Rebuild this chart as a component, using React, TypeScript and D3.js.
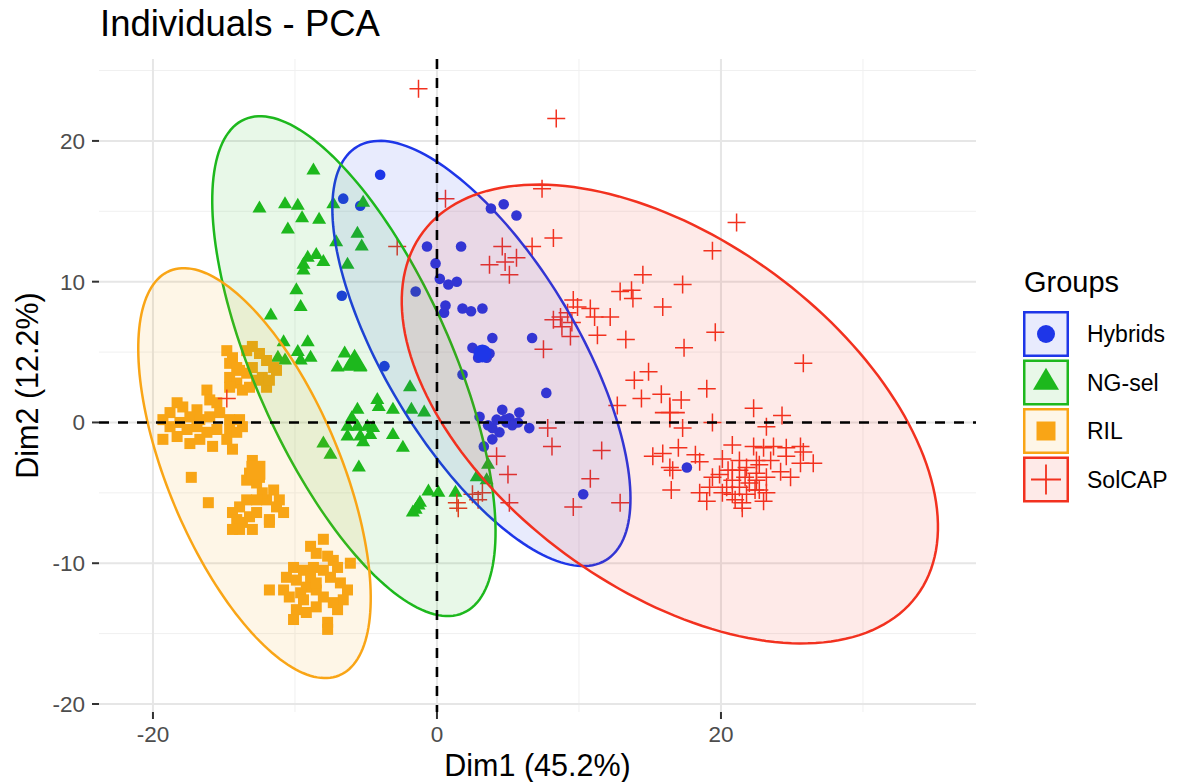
import React from "react";
import * as d3 from "d3";

const W = 1182;
const H = 782;

// ---- data (Dim1, Dim2) ----
const hybrids: [number, number][] = [
  [-4.0, 17.6], [-6.6, 15.9], [-5.4, 15.4], [3.8, 15.2], [4.7, 15.5], [5.6, 14.7],
  [-0.7, 12.5], [1.7, 12.5], [-0.1, 11.3], [0.2, 10.2], [0.8, 9.8], [1.4, 10.0],
  [-6.7, 9.0], [-1.5, 9.3], [0.6, 8.3], [0.5, 7.8], [1.8, 8.1], [2.4, 7.9], [3.2, 8.1],
  [3.9, 6.0], [6.7, 6.0], [2.5, 5.3], [3.0, 4.9], [3.5, 4.6], [2.9, 4.6], [3.7, 4.9],
  [3.2, 5.1], [1.8, 3.4], [7.7, 2.1], [-3.7, 4.0], [3.0, 0.4], [4.2, 0.2], [4.6, 0.9],
  [5.1, 0.3], [5.8, 0.7], [5.7, 0.0], [6.5, -0.4], [3.9, -0.4], [4.4, -0.7], [3.9, -1.2],
  [3.3, -1.7], [4.9, 0.0], [4.8, 0.2], [5.3, -0.2], [3.6, -0.2], [10.3, -5.1], [17.6, -3.2],
];

const ngSel: [number, number][] = [
  [-8.7, 17.9], [-12.5, 15.2], [-10.7, 15.5], [-9.8, 15.4], [-7.3, 15.5], [-9.5, 14.5],
  [-8.3, 14.4], [-10.5, 13.7], [-5.6, 13.4], [-5.3, 12.5], [-7.1, 12.8], [-9.1, 11.7],
  [-8.5, 11.9], [-8.0, 11.4], [-9.4, 11.2], [-9.4, 10.8], [-6.3, 11.2], [-9.9, 9.4],
  [-9.6, 8.2], [-11.7, 7.6], [-10.8, 5.7], [-9.1, 5.7], [-9.8, 5.0], [-8.9, 4.6],
  [-11.2, 4.6], [-10.7, 4.4], [-9.6, 4.4], [-6.5, 4.9], [-7.0, 3.9], [-5.9, 4.2],
  [-5.4, 3.9], [-6.0, 4.3], [-1.9, 2.5], [-4.2, 1.6], [-4.1, 1.1], [-5.6, 0.9],
  [-6.0, 0.3], [-3.1, 0.9], [-1.8, 0.9], [-0.9, 0.7], [-6.3, -0.3], [-5.6, -0.3],
  [-4.9, -0.3], [-4.5, -0.4], [-6.3, -1.0], [-5.4, -1.0], [-4.7, -0.9], [-5.2, -1.4],
  [-3.1, -0.9], [-8.0, -1.5], [-7.5, -2.3], [-2.4, -1.8], [-5.5, -3.2], [3.6, -3.0],
  [2.8, -3.9], [3.5, -4.1], [-0.6, -4.9], [0.1, -5.0], [1.3, -5.0], [-1.3, -5.9],
  [-1.5, -6.2], [-1.2, -5.7], [-1.7, -6.4], [-5.8, 4.1], [-5.2, 15.6],
];

const ril: [number, number][] = [
  [-14.8, 5.1], [-14.4, 4.6], [-14.6, 4.2], [-14.1, 3.9], [-13.4, 5.1], [-13.0, 5.4],
  [-12.5, 4.9], [-12.0, 4.4], [-11.5, 3.9], [-11.3, 3.7], [-14.6, 3.2], [-14.1, 2.8],
  [-13.7, 2.3], [-13.2, 2.5], [-12.7, 3.0], [-12.3, 3.2], [-12.0, 2.5], [-13.4, 3.5],
  [-13.9, 3.7], [-13.0, 3.9], [-11.8, 3.0], [-14.6, 2.5],
  [-16.2, 2.3], [-18.3, 1.4], [-18.8, 0.7], [-17.9, 1.1], [-16.9, 0.9], [-16.0, 1.6],
  [-15.5, 1.4], [-17.4, 0.4], [-16.7, 0.2], [-16.0, 0.4], [-15.3, 0.7], [-14.6, 0.2],
  [-13.9, 0.2], [-13.7, -0.3], [-14.6, -0.5], [-15.5, -0.5], [-16.2, -0.7], [-16.9, -0.3],
  [-17.6, -0.5], [-18.1, 0.0], [-18.8, -0.3], [-19.3, 0.2], [-19.3, -1.2], [-18.3, -1.0],
  [-17.4, -1.5], [-16.7, -1.2], [-15.8, -1.7], [-14.8, -1.2], [-14.1, -0.7], [-14.4, -1.9],
  [-17.3, -3.9], [-16.1, -5.7],
  [-13.0, -2.7], [-12.7, -3.2], [-13.2, -3.6], [-12.5, -3.9], [-13.4, -4.1], [-12.7, -4.3],
  [-11.5, -4.8], [-12.0, -5.5], [-11.1, -5.5], [-11.3, -6.0], [-10.8, -6.4], [-11.8, -6.9],
  [-12.3, -5.0], [-12.7, -5.5], [-13.4, -5.5], [-13.9, -6.0], [-14.4, -6.4], [-14.1, -6.9],
  [-13.7, -7.1], [-13.2, -6.7], [-12.7, -6.4], [-13.0, -7.6], [-13.9, -7.6], [-11.8, -7.1],
  [-14.4, -7.6],
  [-8.0, -8.3], [-8.9, -8.8], [-8.5, -9.3], [-7.7, -9.5], [-7.3, -9.8], [-7.0, -10.3],
  [-6.1, -10.0], [-10.1, -10.3], [-9.4, -10.5], [-8.7, -10.3], [-8.0, -10.5], [-7.5, -11.0],
  [-6.8, -11.4], [-6.3, -11.9], [-6.6, -12.6], [-7.3, -12.8], [-7.0, -13.3], [-8.0, -12.4],
  [-8.5, -11.9], [-9.2, -11.7], [-9.6, -12.1], [-10.4, -12.4], [-10.8, -11.9], [-11.8, -11.9],
  [-10.6, -11.0], [-9.9, -11.2], [-8.9, -11.0], [-9.4, -12.6], [-8.5, -13.1], [-9.9, -13.3],
  [-10.1, -14.0], [-9.2, -13.5], [-7.7, -14.2], [-7.7, -14.7], [-8.5, -11.4],
];

const solcap: [number, number][] = [
  [-1.3, 23.7], [8.4, 21.6], [7.4, 16.6], [0.6, 15.9], [-2.8, 12.5], [8.2, 13.1],
  [4.6, 12.5], [6.7, 12.5], [3.7, 11.2], [4.8, 11.4], [5.6, 11.7], [5.1, 10.5],
  [14.5, 10.5], [12.9, 9.3], [13.7, 9.4], [13.8, 8.8], [17.3, 9.8], [15.9, 8.2],
  [9.6, 8.7], [9.9, 8.2], [9.2, 7.8], [8.7, 7.5], [8.2, 7.3], [9.5, 7.1], [8.8, 6.8],
  [9.4, 6.1], [10.8, 8.1], [11.1, 7.5], [12.2, 7.5], [11.3, 6.2], [7.5, 5.2], [13.3, 5.9],
  [17.4, 5.3], [14.9, 3.6], [13.9, 3.0], [14.4, 1.7], [15.8, 2.0], [17.2, 1.6], [16.4, 0.7],
  [12.7, 1.2], [7.8, -0.4], [8.1, -1.7], [11.6, -2.0], [15.2, -2.4], [17.0, -1.8],
  [17.3, -0.4], [4.2, -2.4], [5.0, -3.7], [10.8, -4.0], [9.6, -6.0], [12.9, -5.7],
  [16.6, -3.4], [16.5, -4.8], [5.1, -5.7], [1.4, -5.7], [1.5, -6.1], [2.5, -5.1],
  [2.9, -5.5], [3.2, -5.0], [21.1, 14.2], [19.4, 12.2], [19.6, 6.4], [25.8, 4.2],
  [19.0, 2.4], [22.3, 1.0], [24.3, 0.5], [19.4, 0.0], [23.2, -0.3], [18.2, -2.3],
  [18.5, -2.8], [20.1, -2.6], [20.8, -1.6], [22.3, -1.7], [23.0, -1.8], [23.7, -1.7],
  [24.6, -1.8], [25.6, -1.7], [26.5, -2.9], [24.6, -2.4], [24.2, -3.5], [24.9, -3.9],
  [19.4, -3.9], [21.3, -2.7], [21.3, -3.4], [20.8, -4.1], [20.4, -4.6], [21.3, -4.6],
  [22.0, -4.3], [22.5, -3.6], [22.7, -4.8], [23.2, -5.0], [21.8, -5.1], [20.8, -5.1],
  [20.1, -5.0], [23.0, -5.6], [21.5, -5.7], [19.2, -4.6], [18.5, -5.0], [19.0, -5.6],
  [22.5, -2.7], [23.5, -2.7], [21.8, -3.2], [23.2, -3.9], [22.5, -4.1], [20.8, -3.4],
  [25.6, -2.9], [25.8, -2.1], [-14.8, 1.7], [15.9, -2.2], [16.4, -3.2], [21.5, -6.1],
  [19.9, -3.7], [21.7, -3.9], [22.4, -4.8], [21.0, -5.5], [20.5, -3.4], [22.7, -3.0],
];

const groupNames = ["Hybrids", "NG-sel", "RIL", "SolCAP"];
const groupColors = ["#1E36E8", "#1DB81D", "#F9A516", "#F2311F"];
const groupShapes = ["circle", "triangle", "square", "plus"];
const groupPoints = [hybrids, ngSel, ril, solcap];

// group means (drawn as large markers)
const meanX = [3.2, -5.8, -12.75, 16.4];
const meanY = [4.9, 4.2, -3.4, 0.7];

// ellipse centres, semi-axes and rotation, in data units
const ellipseCx = [3.13, -5.85, -12.85, 16.4];
const ellipseCy = [4.9, 4.0, -3.6, 0.6];
const ellipseA = [17.1, 19.15, 15.56, 21.66];
const ellipseB = [6.78, 6.93, 6.08, 12.37];
const ellipseAngle = [-59.3, -66.3, -67.5, -36.65];

const xTicks = [-20, 0, 20];
const yTicks = [-20, -10, 0, 10, 20];
const xMinor = [-10, 10, 30];
const yMinor = [-15, -5, 5, 15, 25];

const FONT = "'Liberation Sans', Arial, Helvetica, sans-serif";

const left = 99, right = 976, top = 59, bottom = 712;
const x = d3.scaleLinear().domain([-23.8, 37.96]).range([left, right]);
const y = d3.scaleLinear().domain([-20.57, 25.82]).range([bottom, top]);

function Marker({ shape, cx, cy, color, big }: { shape: string; cx: number; cy: number; color: string; big?: boolean }) {
  if (shape === "circle") {
    return <circle cx={cx} cy={cy} r={big ? 9 : 5.3} fill={color} />;
  }
  if (shape === "square") {
    const s = big ? 19 : 11;
    return <rect x={cx - s / 2} y={cy - s / 2} width={s} height={s} fill={color} />;
  }
  if (shape === "triangle") {
    const w = big ? 26 : 14;
    const h = big ? 22 : 12;
    return (
      <path
        d={`M${cx},${cy - (h * 2) / 3}L${cx + w / 2},${cy + h / 3}L${cx - w / 2},${cy + h / 3}Z`}
        fill={color}
      />
    );
  }
  const s = big ? 15 : 9;
  return (
    <path
      d={`M${cx - s},${cy}H${cx + s}M${cx},${cy - s}V${cy + s}`}
      stroke={color}
      strokeWidth={big ? 1.8 : 1.5}
      fill="none"
    />
  );
}

function ellipsePath(i: number) {
  const phi = (ellipseAngle[i] * Math.PI) / 180;
  const ts = d3.range(0, 361, 2).map((d) => (d * Math.PI) / 180);
  const pts: [number, number][] = ts.map((t) => {
    const dx = ellipseA[i] * Math.cos(t) * Math.cos(phi) - ellipseB[i] * Math.sin(t) * Math.sin(phi);
    const dy = ellipseA[i] * Math.cos(t) * Math.sin(phi) + ellipseB[i] * Math.sin(t) * Math.cos(phi);
    return [ellipseCx[i] + dx, ellipseCy[i] + dy];
  });
  const line = d3
    .line<[number, number]>()
    .x((d) => x(d[0]))
    .y((d) => y(d[1]))
    .curve(d3.curveLinearClosed);
  return line(pts) || "";
}

export default function App() {
  const legendX = 1023;
  const legendY0 = 311;
  const keySize = 46;
  const keyStep = 48.5;
  return (
    <svg
      width={W}
      height={H}
      style={{ position: "absolute", left: 0, top: 0, background: "#fff" }}
      fontFamily={FONT}
    >
      <rect x={0} y={0} width={W} height={H} fill="#fff" />
      {/* grid */}
      {xMinor.map((v) => (
        <line key={"xm" + v} x1={x(v)} x2={x(v)} y1={top} y2={bottom} stroke="#F0F0F0" strokeWidth={1} />
      ))}
      {yMinor.map((v) => (
        <line key={"ym" + v} x1={left} x2={right} y1={y(v)} y2={y(v)} stroke="#F0F0F0" strokeWidth={1} />
      ))}
      {xTicks.map((v) => (
        <line key={"xg" + v} x1={x(v)} x2={x(v)} y1={top} y2={bottom} stroke="#E6E6E6" strokeWidth={2} />
      ))}
      {yTicks.map((v) => (
        <line key={"yg" + v} x1={left} x2={right} y1={y(v)} y2={y(v)} stroke="#E6E6E6" strokeWidth={2} />
      ))}

      {/* points */}
      {groupPoints.map((pts, gi) =>
        pts.map((p, j) => (
          <Marker key={gi + "-" + j} shape={groupShapes[gi]} cx={x(p[0])} cy={y(p[1])} color={groupColors[gi]} />
        ))
      )}

      {/* ellipses */}
      {groupNames.map((g, i) => (
        <path
          key={"el" + g}
          d={ellipsePath(i)}
          fill={groupColors[i]}
          fillOpacity={0.1}
          stroke={groupColors[i]}
          strokeWidth={2.5}
        />
      ))}

      {/* group means */}
      {groupNames.map((g, i) => (
        <Marker key={"m" + g} shape={groupShapes[i]} cx={x(meanX[i])} cy={y(meanY[i])} color={groupColors[i]} big />
      ))}

      {/* reference dashed lines */}
      <line x1={x(0)} x2={x(0)} y1={top} y2={bottom} stroke="#000" strokeWidth={2.6} strokeDasharray="10 9" />
      <line x1={left} x2={right} y1={y(0)} y2={y(0)} stroke="#000" strokeWidth={2.6} strokeDasharray="10 9" />

      {/* axes ticks and labels */}
      {xTicks.map((v) => (
        <g key={"xt" + v}>
          <line x1={x(v)} x2={x(v)} y1={bottom} y2={bottom + 7} stroke="#333" strokeWidth={2} />
          <text x={x(v)} y={742} textAnchor="middle" fontSize={22.5} fill="#4D4D4D">
            {v}
          </text>
        </g>
      ))}
      {yTicks.map((v) => (
        <g key={"yt" + v}>
          <line x1={left - 7} x2={left} y1={y(v)} y2={y(v)} stroke="#333" strokeWidth={2} />
          <text x={left - 14} y={y(v) + 8} textAnchor="end" fontSize={22.5} fill="#4D4D4D">
            {v}
          </text>
        </g>
      ))}

      <text x={(left + right) / 2} y={776} textAnchor="middle" fontSize={30.5} fill="#000">
        Dim1 (45.2%)
      </text>
      <text
        transform={`translate(38,${(top + bottom) / 2}) rotate(-90)`}
        textAnchor="middle"
        fontSize={30.5}
        fill="#000"
      >
        Dim2 (12.2%)
      </text>

      <text x={100} y={36} fontSize={36.5} fill="#000">
        Individuals - PCA
      </text>

      {/* legend */}
      <text x={legendX + 1} y={292} fontSize={29} fill="#000">
        Groups
      </text>
      {groupNames.map((g, i) => {
        const ky = legendY0 + i * keyStep;
        return (
          <g key={"lg" + g}>
            <rect x={legendX} y={ky} width={keySize} height={keySize} fill="#fff" />
            <rect
              x={legendX + 1.25}
              y={ky + 1.25}
              width={keySize - 2.5}
              height={keySize - 2.5}
              fill={groupColors[i]}
              fillOpacity={0.1}
              stroke={groupColors[i]}
              strokeWidth={2.5}
            />
            <Marker shape={groupShapes[i]} cx={legendX + keySize / 2} cy={ky + keySize / 2} color={groupColors[i]} big />
            <text x={1087} y={ky + keySize / 2 + 8} fontSize={23} fill="#000">
              {g}
            </text>
          </g>
        );
      })}
    </svg>
  );
}
